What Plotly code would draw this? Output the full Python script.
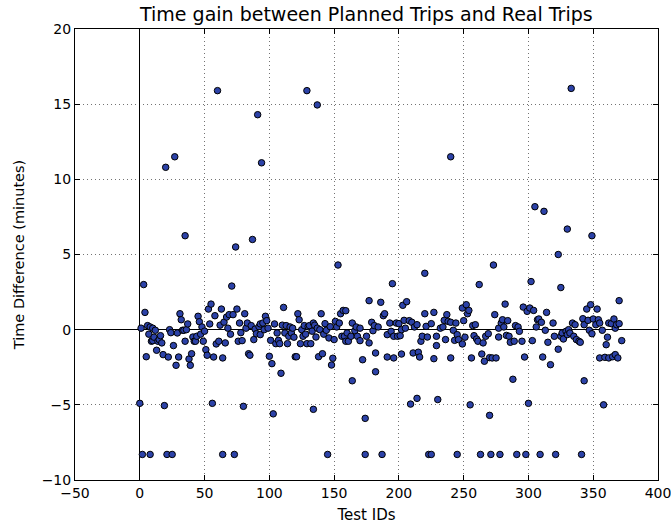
import plotly.graph_objects as go

test_ids = [
    0, 1, 2, 3, 4, 5, 6, 7, 8, 8,
    9, 10, 10, 11, 12, 13, 14, 15, 16, 17,
    18, 19, 20, 21, 22, 23, 24, 25, 26, 27,
    28, 29, 30, 31, 32, 33, 34, 35, 35, 36,
    37, 38, 39, 40, 41, 42, 43, 44, 45, 46,
    47, 48, 49, 50, 51, 52, 53, 54, 55, 56,
    57, 58, 59, 60, 61, 62, 63, 64, 64, 65,
    66, 67, 68, 69, 70, 71, 72, 73, 74, 75,
    76,
    77, 78, 79, 80, 81, 82, 83, 84, 85, 86,
    87, 88, 89, 90, 91, 92, 93, 93, 94, 95,
    96, 97, 98, 99, 100, 101, 102, 103, 104, 105,
    106, 107, 108, 109, 110, 111, 112, 113, 114, 115,
    116, 117, 118, 119, 120, 121, 122, 123, 124, 125,
    126, 127, 128, 129, 129, 130, 131, 132, 133, 134,
    134, 135, 136, 137, 137, 138, 139, 140, 141, 142,
    143, 144, 145, 146, 147, 148, 149, 150, 151, 152,
    153, 154, 155, 156, 157, 158, 159,
    159, 160, 161, 163, 164, 164, 166, 167, 168, 170,
    170, 172, 174, 174, 175, 177, 177, 179, 180, 181,
    182, 182, 184, 186, 187, 188, 189, 191, 191, 193,
    194, 195, 196, 196, 198, 199, 200, 201, 202, 202,
    203, 204, 205, 206, 208, 209, 210, 211, 212, 214,
    214, 215, 216, 217, 218, 220, 220, 221, 222, 223,
    225, 225, 227, 227, 229, 229, 230, 232, 234, 235,
    236, 237, 238, 240, 240, 240, 242, 243, 244, 245,
    245, 246, 249, 249, 250, 251, 252, 253, 254, 255,
    256, 257, 258, 259, 260, 261, 262, 263, 264, 265,
    266, 267, 269, 270, 270, 271, 272, 273, 274, 275,
    277, 277, 278, 279, 280, 281, 282, 283, 284, 285,
    286, 288, 289, 290, 291, 292, 293, 295, 296, 297,
    298, 299, 300, 301, 302, 303, 304, 305, 306, 307,
    308, 309, 310, 311, 312, 313, 314, 315, 317, 319,
    320, 321, 323, 323, 325,
    325, 326, 327, 329, 330, 330, 331, 332, 333, 334,
    335, 336, 337, 339, 340, 341, 342, 343, 343, 345,
    346, 347, 348, 349, 349, 350, 352, 353, 354, 355,
    355, 357, 358, 359, 360, 361, 362, 362, 364, 365,
    366, 367, 367, 368, 369, 370, 370, 372,
]

time_diff = [
    -4.9, 0.1, -8.3, 3.0, 1.15, -1.8, 0.27, -0.3, -8.3, 0.18,
    -0.77, 0.1, -0.73, -0.5, -0.04, -1.37, -0.77, -0.66, -0.4, -0.88,
    -1.66, -5.05, 10.8, -8.3, -1.82, 0.0, -0.2, -8.3, -1.06, 11.5,
    -2.37, -0.22, -1.82, 1.06, 0.66, -0.04, -0.04, -0.77, 6.25, 0.0,
    0.38, -1.95, -2.37, -1.6, -0.49, -0.77, -0.77, -0.44, 0.89, 0.53,
    -0.3, 0.18, -0.77, -0.1, -1.33, -1.7, 1.37, 0.38, 1.7, -4.9,
    -1.82, 0.93, -0.95, 15.9, -0.77, 0.3, 1.37, -1.88, -8.3, 0.5,
    -0.88, 0.84, 0.1, 1.0, -0.3, 2.9, 1.0, -8.3, 5.5, 1.37,
    -0.77,
    0.44, -0.2, -0.73, -5.1, 1.06, 0.1, 0.44, -1.6, -1.7, 0.27,
    6.0, -0.66, 0.04, -0.27, 14.3, 0.2, -0.33, 0.38, 11.1, 0.44,
    0.0, 0.89, 0.6, 0.1, -1.77, -0.71, -2.26, -5.6, 0.38, -0.93,
    -0.22, -0.71, -0.93, -2.9, 0.3, 1.48, -0.22, 0.27, -0.93, -0.44,
    0.18, -0.22, 0.1, -0.5, -1.8, -1.8, 1.06, 0.66, -0.93, 0.0,
    -0.44, 0.27, -0.3, 15.9, -0.93, 0.2, 0.27, -0.93, -0.1, 0.44,
    -5.3, 0.3, -0.49, 0.1, 14.95, -1.8, 0.0, 1.06, -1.6, -0.3,
    0.4, -0.04, -8.3, -0.55, 0.2, -2.35, -1.9, -0.66, 0.55, 0.18,
    4.3, 0.44, 1.06, -0.44, 1.28, -0.44, -0.77,
    1.26, -0.22, -0.77, -0.44, 0.44, -3.4, -0.07, 0.18, -0.44, -0.73,
    0.1, -2.0, -5.9, -8.3, -0.44, -0.88, 1.93, 0.49, -0.07, 0.27,
    -2.8, -1.55, 0.18, 1.82, -8.3, 0.93, 1.06, -0.33, -1.82, 0.44,
    -0.11, 3.06, -0.44, -1.88, 0.44, -0.44, 0.4, -0.4, -1.62, 0.0,
    1.62, 0.62, 0.1, 1.86, 0.6, -4.95, 0.49, -1.55, 0.18, -4.57,
    0.33, -1.5, -1.82, -0.77, -0.44, 3.75, 1.06, 0.22, -0.49, -8.3,
    0.4, -8.3, 1.15, -1.93, -0.44, -1.06, -4.65, 0.1, 0.18, 0.62,
    -0.66, 1.0, 0.55, 11.5, -1.88, 0.49, -0.04, -0.71, 0.44, -8.3,
    -0.33, -0.66, -0.95, 1.44, 0.6, -0.5, 1.66, 1.06, 1.28, -5.0,
    -1.88, 0.27, -0.4, 0.33, -0.62, -0.77, 3.0, -8.3, -1.62, -0.88,
    -2.1, -0.44, -0.27, -1.86, -5.7, -8.3, -1.88, 4.3, 1.0, -1.88,
    0.1, -0.49, -8.3, 0.44, 0.66, 0.18, 1.7, -0.38, 0.6, -0.44,
    -0.84, -3.3, -0.77, 0.27, -8.3, 0.18, -0.11, -0.77, 1.5, -1.82,
    -8.3, 1.22, -4.9, 1.44, 3.2, -0.73, 1.28, 8.18, 0.18, 0.66,
    0.71, -8.3, 0.49, -1.82, 7.87, -0.04, 1.15, -0.84, -2.33, 0.44,
    -0.44, -8.3, -1.3, 5.0, 2.8,
    -0.44, -0.22, -0.62, -0.11, -0.33, 6.69, 0.0, -0.22, 16.05, 0.44,
    -0.44, 0.33, -0.66, -0.77, -0.84, -8.3, 0.73, -3.4, 0.33, 1.37,
    0.62, -0.04, 1.66, -0.27, 6.25, 0.71, 0.33, 1.37, 0.66, -1.88,
    0.44, -0.04, -5.0, -1.84, -1.0, -0.5, 0.44, -1.88, 0.4, -1.8,
    0.71, -1.66, 0.1, 0.33, -1.88, 0.4, 1.93, -0.73,
]

x_ticks = [-50, 0, 50, 100, 150, 200, 250, 300, 350, 400]
y_ticks = [-10, -5, 0, 5, 10, 15, 20]

fig = go.Figure()
fig.add_trace(go.Scatter(
    x=test_ids, y=time_diff, mode="markers",
    marker=dict(size=6.5, color="rgb(44,66,168)",
                line=dict(color="black", width=1)),
    showlegend=False,
))

axis_common = dict(
    showline=True, mirror="ticks", linecolor="black", linewidth=1,
    ticks="inside", ticklen=5, tickcolor="black",
    showgrid=True, gridcolor="rgba(0,0,0,0.55)", griddash="1px,3px", gridwidth=1,
    zeroline=True, zerolinecolor="black", zerolinewidth=1.3,
    tickfont=dict(family="DejaVu Sans", size=14, color="black"),
    ticklabeloverflow="allow",
    automargin=False,
)

fig.update_layout(
    width=671, height=527,
    margin=dict(l=75, r=13, t=29, b=47),
    paper_bgcolor="white", plot_bgcolor="white",
    title=dict(text="Time gain between Planned Trips and Real Trips",
               x=0.546, xanchor="center", y=0.972, yanchor="middle",
               font=dict(family="DejaVu Sans", size=19, color="black")),
    xaxis=dict(range=[-50, 400], tickvals=x_ticks,
               title=dict(text="Test IDs", standoff=9,
                          font=dict(family="DejaVu Sans", size=15, color="black")),
               **axis_common),
    yaxis=dict(range=[-10, 20], tickvals=y_ticks,
               title=dict(text="Time Difference (minutes)", standoff=13,
                          font=dict(family="DejaVu Sans", size=14.5, color="black")),
               **axis_common),
)

fig.write_html("out.html")
